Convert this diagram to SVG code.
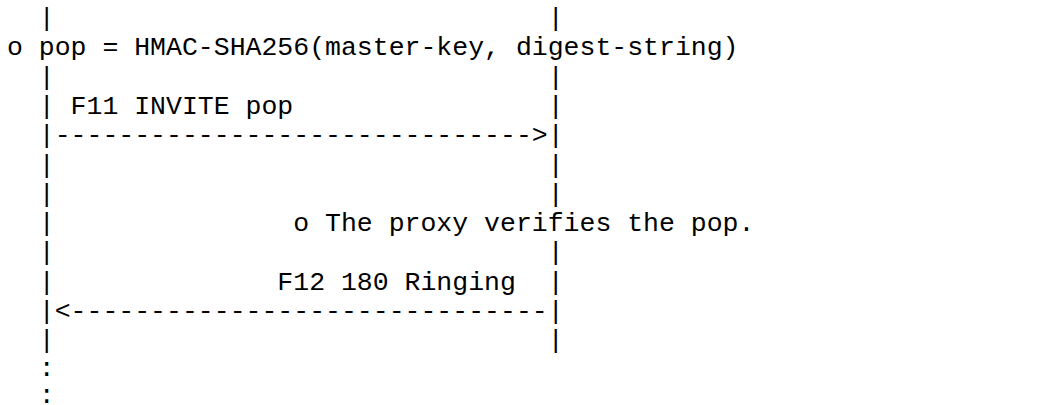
<svg xmlns="http://www.w3.org/2000/svg" width="1064" height="405" viewBox="0 0 1064 405">
  <style>
    .t { font-family: "Liberation Mono", "DejaVu Sans Mono", monospace; font-size: 26.5px; fill: #000000; white-space: pre; }
  </style>
  <rect x="0" y="0" width="1064" height="405" fill="#ffffff"/>
  <g id="lifeline-top">
    <text class="t" x="7" y="26" xml:space="preserve">  |                               |</text>
  </g>
  <g id="note-pop">
    <text class="t" x="7" y="55.3" xml:space="preserve">o pop = HMAC-SHA256(master-key, digest-string)</text>
  </g>
  <g id="connectors">
    <g id="msg-f11">
      <text class="t" x="7" y="84.6" xml:space="preserve">  |                               |</text>
      <text class="t" x="7" y="113.9" xml:space="preserve">  | F11 INVITE pop                |</text>
      <text class="t" x="7" y="143.2" xml:space="preserve">  |------------------------------&gt;|</text>
    </g>
    <g id="lifeline-mid">
      <text class="t" x="7" y="172.5" xml:space="preserve">  |                               |</text>
      <text class="t" x="7" y="201.8" xml:space="preserve">  |                               |</text>
    </g>
    <g id="msg-f12">
      <text class="t" x="7" y="260.4" xml:space="preserve">  |                               |</text>
      <text class="t" x="7" y="289.7" xml:space="preserve">  |              F12 180 Ringing  |</text>
      <text class="t" x="7" y="319" xml:space="preserve">  |&lt;------------------------------|</text>
    </g>
  </g>
  <g id="note-verify">
    <text class="t" x="7" y="231.1" xml:space="preserve">  |               o The proxy verifies the pop.</text>
  </g>
  <g id="lifeline-end">
    <text class="t" x="7" y="348.3" xml:space="preserve">  |                               |</text>
    <text class="t" x="7" y="375.5" xml:space="preserve"><tspan x="7" y="375.5">  :</tspan><tspan x="7" y="402.5">  :</tspan></text>
  </g>
</svg>
